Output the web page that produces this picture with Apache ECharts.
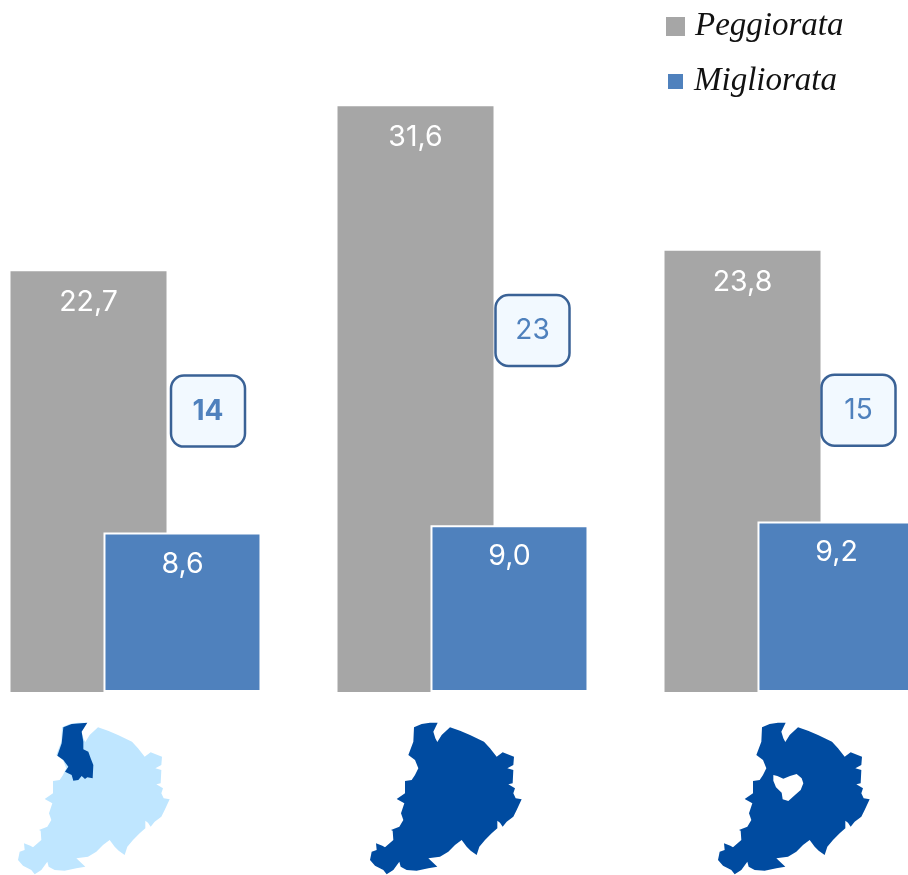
<!DOCTYPE html>
<html><head><meta charset="utf-8">
<style>html,body{margin:0;padding:0;background:#fff}#c{width:908px;height:875px}</style>
<script src="https://cdn.jsdelivr.net/npm/echarts@6/dist/echarts.min.js"></script>
</head><body><div id="c"></div>
<script>
const categories = ['A', 'B', 'C'];
const peggiorata = [22.7, 31.6, 23.8];
const migliorata = [8.6, 9.0, 9.2];
const gapLabels = ['14', '23', '15'];
const gapHeights = [15.15, 19.5, 15.2];
const gapOffsets = [72, 69.5, 68.5];
const gapWeights = ['bold', 'normal', 'normal'];
const fmt = p => p.value.toFixed(1).replace('.', ',');

const outline = [[192,82],[215,72],[240,68],[263,68],[250,95],[256,115],[262,126],[275,105],[300,82],[330,92],[360,105],[402,125],[420,145],[440,170],[458,157],[492,170],[490,195],[472,205],[490,210],[488,250],[475,253],[495,265],[490,280],[497,295],[515,298],[500,330],[490,350],[470,365],[458,380],[450,368],[442,362],[442,385],[425,400],[405,420],[388,440],[380,465],[362,452],[350,440],[335,420],[315,435],[295,455],[270,470],[235,475],[262,500],[235,505],[200,512],[170,510],[152,500],[148,485],[130,510],[110,523],[100,510],[75,497],[60,480],[65,455],[80,450],[78,430],[97,437],[105,442],[130,420],[128,392],[123,390],[148,380],[160,360],[153,340],[163,310],[140,297],[165,280],[165,243],[185,240],[195,225],[205,205],[195,180],[175,165],[190,125]];
const district = [[190,82],[215,72],[262,68],[245,95],[250,125],[250,148],[265,155],[272,175],[280,195],[278,235],[262,232],[255,237],[245,228],[235,240],[220,242],[215,225],[195,215],[205,200],[190,180],[172,167],[185,130]];
const hole = [[250,225],[262,228],[280,236],[300,228],[320,222],[335,235],[340,250],[332,270],[315,285],[295,303],[278,298],[275,278],[258,262],[250,242]];
const place = (pts, ox) => pts.map(p => [ox + p[0] / 3, 700 + p[1] / 3]);
const poly = (pts, ox, fill) => ({ type: 'polygon', silent: true, shape: { points: place(pts, ox) }, style: { fill } });

const chart = echarts.init(document.getElementById('c'), null, { renderer: 'canvas' });
const labelBase = { show: true, position: 'insideTop', distance: 17, color: '#fff', fontSize: 28.5, fontFamily: 'Inter', formatter: fmt };
const legendText = { fontSize: 33, fontStyle: 'italic', fontFamily: 'Liberation Serif', color: '#111', padding: [0, 0, 0, 5] };
chart.setOption({
  animation: false,
  grid: { left: -27.5, top: 0, width: 981, height: 692, outerBoundsMode: 'none', containLabel: false },
  legend: [
    { data: ['Peggiorata'], left: 666, top: 10, padding: 0, itemWidth: 19, itemHeight: 19, itemGap: 10, icon: 'rect', textStyle: legendText },
    { data: ['Migliorata'], left: 666, top: 65, padding: 0, itemWidth: 17, itemHeight: 17, itemGap: 10, icon: 'rect', textStyle: legendText }
  ],
  xAxis: { type: 'category', data: categories, axisLine: { show: false }, axisTick: { show: false }, axisLabel: { show: false } },
  yAxis: { type: 'value', min: 0, max: 692 / 18.54, show: false, splitLine: { show: false } },
  series: [
    { name: 'Peggiorata', type: 'bar', data: peggiorata, barWidth: 156, barGap: '-40.4%',
      itemStyle: { color: '#a6a6a6' }, label: labelBase },
    { name: 'Migliorata', type: 'bar', data: migliorata, barWidth: 158,
      itemStyle: { color: '#4f81bd', borderColor: '#fff', borderWidth: 2 }, label: labelBase },
    { type: 'custom', silent: true, z: 5, clip: false, data: gapHeights.map((h, i) => [i, h]),
      renderItem: (params, api) => {
        const i = params.dataIndex, c = api.coord([api.value(0), api.value(1)]);
        const cx = c[0] + gapOffsets[i], cy = c[1];
        return { type: 'group', children: [
          { type: 'rect', shape: { x: cx - 37, y: cy - 35.5, width: 74, height: 71, r: 13 },
            style: { fill: '#f2f9ff', stroke: '#3a6296', lineWidth: 2.5 } },
          { type: 'text', style: { x: cx, y: cy, text: gapLabels[i], align: 'center', verticalAlign: 'middle',
            fill: '#4f81bd', fontSize: 28, fontWeight: gapWeights[i], fontFamily: 'Inter' } }
        ] };
      } }
  ],
  graphic: [
    poly(outline, -2, '#bfe6ff'), poly(district, 0, '#004ba0'),
    poly(outline, 350, '#004ba0'),
    poly(outline, 698, '#004ba0'), poly(hole, 690, '#ffffff')
  ]
});
</script></body></html>
